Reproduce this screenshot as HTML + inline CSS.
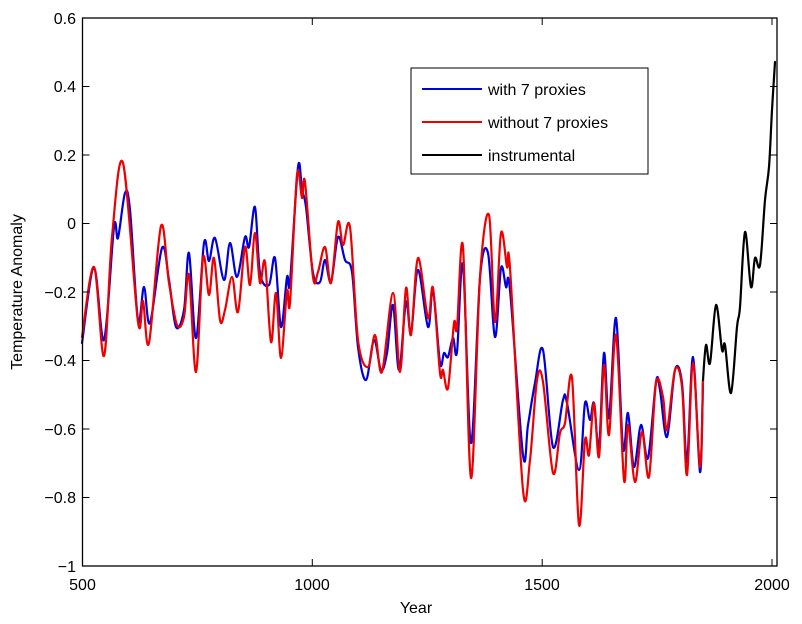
<!DOCTYPE html>
<html><head><meta charset="utf-8"><style>
body{margin:0;background:#fff}
svg{display:block;font-family:"Liberation Sans",sans-serif}
</style></head><body>
<svg id="s" width="802" height="624" viewBox="0 0 802 624">
<rect x="0" y="0" width="802" height="624" fill="#fff"/>
<g id="series" fill="none" stroke-width="2.2" stroke-linejoin="round" stroke-linecap="round"></g>
<rect x="82.5" y="18" width="694.5" height="548" fill="none" stroke="#000" stroke-width="1.3"/>
<g id="ticks" stroke="#000" stroke-width="1"></g>
<g font-size="16" fill="#000" text-anchor="end">
<text x="76" y="24">0.6</text><text x="76" y="92">0.4</text><text x="76" y="161">0.2</text>
<text x="76" y="229">0</text><text x="76" y="298">−0.2</text><text x="76" y="366">−0.4</text>
<text x="76" y="435">−0.6</text><text x="76" y="503">−0.8</text><text x="76" y="572">−1</text>
</g>
<g font-size="16" fill="#000" text-anchor="middle">
<text x="82.5" y="590">500</text><text x="312" y="590">1000</text><text x="542" y="590">1500</text><text x="772" y="590">2000</text>
<text x="416" y="613">Year</text>
<text transform="translate(22,292) rotate(-90)">Temperature Anomaly</text>
</g>
<rect x="411" y="68" width="237" height="106" fill="#fff" stroke="#000" stroke-width="1"/>
<line x1="422" y1="89" x2="482" y2="89" stroke="#0000dd" stroke-width="2"/>
<line x1="422" y1="122" x2="482" y2="122" stroke="#e00" stroke-width="2"/>
<line x1="422" y1="155" x2="482" y2="155" stroke="#000" stroke-width="2"/>
<g font-size="16" fill="#000">
<text x="488" y="95">with 7 proxies</text>
<text x="488" y="128">without 7 proxies</text>
<text x="488" y="161">instrumental</text>
</g>
</svg>
<script>
var blue=[[82,343],[94,268],[104,340],[114,227],[118,238],[125,193],[130,210],[138,320],[144,287],[150,323],[162,248],[169,280],[176,327],[184,310],[189,253],[196,338],[204,243],[209,261],[215,238],[224,280],[230,243],[237,277],[245,237],[249,247],[255,207],[260,273],[269,285],[275,258],[281,327],[287,277],[290,282],[298,167],[302,190],[306,207],[313,273],[320,282],[325,260],[331,282],[338,237],[345,260],[352,272],[358,347],[366,380],[374,340],[381,370],[387,353],[393,305],[399,370],[406,302],[411,333],[418,270],[428,327],[433,290],[440,363],[444,353],[448,357],[453,338],[457,352],[463,265],[471,443],[480,278],[488,253],[495,337],[501,268],[506,287],[510,290],[523,455],[528,425],[535,383],[543,350],[553,447],[563,400],[567,403],[579,470],[585,403],[590,420],[594,403],[599,447],[604,353],[609,418],[616,318],[623,448],[628,413],[634,467],[641,425],[648,458],[656,382],[660,390],[667,437],[675,370],[682,383],[687,462],[693,357],[700,472],[703,380]];
var red=[[82,337],[94,267],[104,356],[112,237],[123,163],[138,322],[143,301],[149,343],[161,226],[169,283],[177,325],[184,317],[189,275],[196,372],[203,258],[209,295],[214,258],[220,320],[225,310],[232,277],[238,312],[245,247],[250,285],[255,233],[260,283],[265,262],[271,342],[276,293],[281,358],[287,291],[290,303],[297,175],[302,198],[305,182],[313,277],[318,272],[325,247],[331,283],[338,222],[343,245],[350,227],[358,340],[368,367],[375,335],[382,372],[393,293],[400,372],[406,288],[411,335],[418,258],[428,318],[433,288],[440,373],[443,370],[448,388],[454,323],[457,328],[463,247],[471,478],[480,277],[489,215],[495,322],[501,233],[507,267],[510,268],[523,490],[530,460],[537,380],[543,382],[553,473],[560,433],[565,423],[572,378],[579,525],[585,440],[589,455],[594,403],[599,457],[604,365],[609,435],[616,335],[624,480],[628,425],[635,482],[642,432],[649,477],[656,383],[663,397],[667,430],[675,370],[682,387],[687,475],[693,363],[700,467],[703,380]];
var black=[[703,380],[706,345],[710,363],[716,305],[722,350],[725,345],[731,393],[737,327],[740,307],[745,232],[751,287],[755,258],[760,265],[765,200],[769,167],[772,110],[775,62]];
function path(p){var d="M"+p[0][0]+","+p[0][1];for(var i=0;i<p.length-1;i++){var p0=p[i-1]||p[i],p1=p[i],p2=p[i+1],p3=p[i+2]||p2;
var c1x=p1[0]+(p2[0]-p0[0])/6,c1y=p1[1]+(p2[1]-p0[1])/6,c2x=p2[0]-(p3[0]-p1[0])/6,c2y=p2[1]-(p3[1]-p1[1])/6;
d+=" C"+c1x.toFixed(1)+","+c1y.toFixed(1)+" "+c2x.toFixed(1)+","+c2y.toFixed(1)+" "+p2[0]+","+p2[1];}return d;}
var NS="http://www.w3.org/2000/svg",g=document.getElementById("series");
[[blue,"#0000dd"],[red,"#e00"],[black,"#000"]].forEach(function(a){var e=document.createElementNS(NS,"path");e.setAttribute("d",path(a[0]));e.setAttribute("stroke",a[1]);g.appendChild(e);});
var t=document.getElementById("ticks"),s="";
[82.5,312.3,542.2,772].forEach(function(x){s+='<line x1="'+x+'" y1="566" x2="'+x+'" y2="559"/><line x1="'+x+'" y1="18" x2="'+x+'" y2="25"/>';});
for(var k=0;k<=8;k++){var y=18+k*68.5;s+='<line x1="82.5" y1="'+y+'" x2="89.5" y2="'+y+'"/><line x1="777" y1="'+y+'" x2="770" y2="'+y+'"/>';}
t.innerHTML=s;
</script>
</body></html>
